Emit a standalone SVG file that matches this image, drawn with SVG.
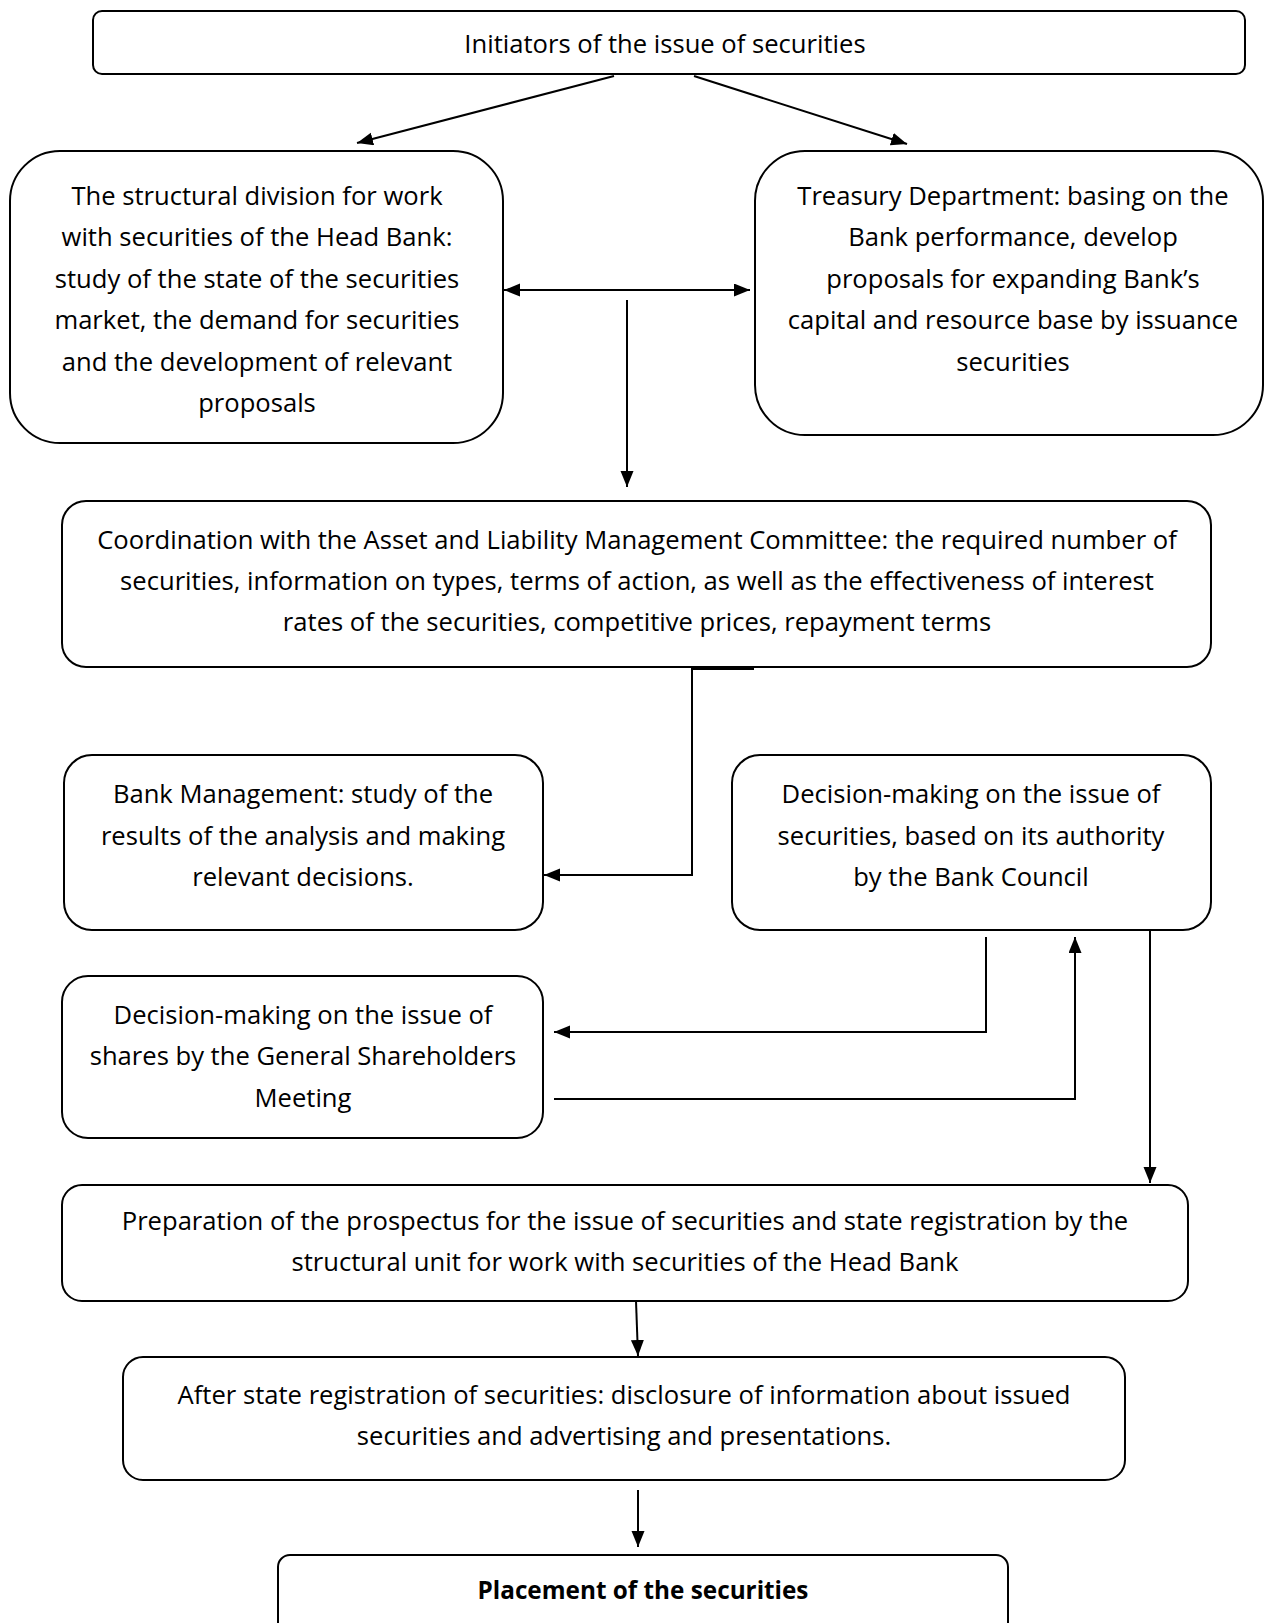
<svg xmlns="http://www.w3.org/2000/svg" width="1264" height="1623" viewBox="0 0 1264 1623">
<defs>
<style>
.box{fill:#fff;stroke:#000;stroke-width:2}
.t{font-family:"Open Sans","Liberation Sans",sans-serif;font-size:25.6px;fill:#000;text-anchor:middle}
.b{font-weight:bold;font-size:24.3px}
.c{fill:none;stroke:#000;stroke-width:2}
</style>
<marker id="ah" markerUnits="userSpaceOnUse" markerWidth="18" markerHeight="14" refX="16" refY="6.5" orient="auto-start-reverse" viewBox="0 0 18 14">
<path d="M0,0 L16,6.5 L0,13 z" fill="#000"/>
</marker>
</defs>
<rect width="1264" height="1623" fill="#fff"/>
<g id="n1"><rect class="box" x="93" y="11" width="1152" height="63" rx="9"/>
<text class="t" x="665" y="52.5">Initiators of the issue of securities</text></g>
<g id="n2"><rect class="box" x="10" y="151" width="493" height="292" rx="50"/>
<text class="t" x="257" y="204.5">The structural division for work</text>
<text class="t" x="257" y="246">with securities of the Head Bank:</text>
<text class="t" x="257" y="287.5">study of the state of the securities</text>
<text class="t" x="257" y="329">market, the demand for securities</text>
<text class="t" x="257" y="370.5">and the development of relevant</text>
<text class="t" x="257" y="411.5">proposals</text></g>
<g id="n3"><rect class="box" x="755" y="151" width="508" height="284" rx="50"/>
<text class="t" x="1013" y="204.5">Treasury Department: basing on the</text>
<text class="t" x="1013" y="246">Bank performance, develop</text>
<text class="t" x="1013" y="287.5">proposals for expanding Bank’s</text>
<text class="t" x="1013" y="329">capital and resource base by issuance</text>
<text class="t" x="1013" y="370.5">securities</text></g>
<g id="n4"><rect class="box" x="62" y="501" width="1149" height="166" rx="24"/>
<text class="t" x="637" y="548.5">Coordination with the Asset and Liability Management Committee: the required number of</text>
<text class="t" x="637" y="589.5">securities, information on types, terms of action, as well as the effectiveness of interest</text>
<text class="t" x="637" y="631">rates of the securities, competitive prices, repayment terms</text></g>
<g id="n5"><rect class="box" x="64" y="755" width="479" height="175" rx="28"/>
<text class="t" x="303" y="803">Bank Management: study of the</text>
<text class="t" x="303" y="844.5">results of the analysis and making</text>
<text class="t" x="303" y="885.5">relevant decisions.</text></g>
<g id="n6"><rect class="box" x="732" y="755" width="479" height="175" rx="28"/>
<text class="t" x="971" y="803">Decision-making on the issue of</text>
<text class="t" x="971" y="844.5">securities, based on its authority</text>
<text class="t" x="971" y="885.5">by the Bank Council</text></g>
<g id="n7"><rect class="box" x="62" y="976" width="481" height="162" rx="26"/>
<text class="t" x="303" y="1023.5">Decision-making on the issue of</text>
<text class="t" x="303" y="1065">shares by the General Shareholders</text>
<text class="t" x="303" y="1106.5">Meeting</text></g>
<g id="n8"><rect class="box" x="62" y="1185" width="1126" height="116" rx="20"/>
<text class="t" x="625" y="1229.5">Preparation of the prospectus for the issue of securities and state registration by the</text>
<text class="t" x="625" y="1271">structural unit for work with securities of the Head Bank</text></g>
<g id="n9"><rect class="box" x="123" y="1357" width="1002" height="123" rx="20"/>
<text class="t" x="624" y="1403.5">After state registration of securities: disclosure of information about issued</text>
<text class="t" x="624" y="1444.5">securities and advertising and presentations.</text></g>
<g id="n10"><rect class="box" x="278" y="1555" width="730" height="90" rx="12"/>
<text class="t b" x="643" y="1599">Placement of the securities</text></g>
<g id="connectors">
<line class="c" x1="614" y1="76" x2="357" y2="143" marker-end="url(#ah)"/>
<line class="c" x1="694" y1="76" x2="907" y2="144" marker-end="url(#ah)"/>
<line class="c" x1="504" y1="290" x2="750" y2="290" marker-start="url(#ah)" marker-end="url(#ah)"/>
<line class="c" x1="627" y1="300" x2="627" y2="487" marker-end="url(#ah)"/>
<line x1="692" y1="668" x2="754" y2="668" stroke="#000" stroke-width="4"/>
<polyline class="c" points="692,668 692,875 544,875" marker-end="url(#ah)"/>
<polyline class="c" points="986,937 986,1032 554,1032" marker-end="url(#ah)"/>
<polyline class="c" points="554,1099 1075,1099 1075,937" marker-end="url(#ah)"/>
<line class="c" x1="1150" y1="930" x2="1150" y2="1183" marker-end="url(#ah)"/>
<line class="c" x1="636" y1="1301" x2="638" y2="1356" marker-end="url(#ah)"/>
<line class="c" x1="638" y1="1490" x2="638" y2="1547" marker-end="url(#ah)"/>
</g>
</svg>
